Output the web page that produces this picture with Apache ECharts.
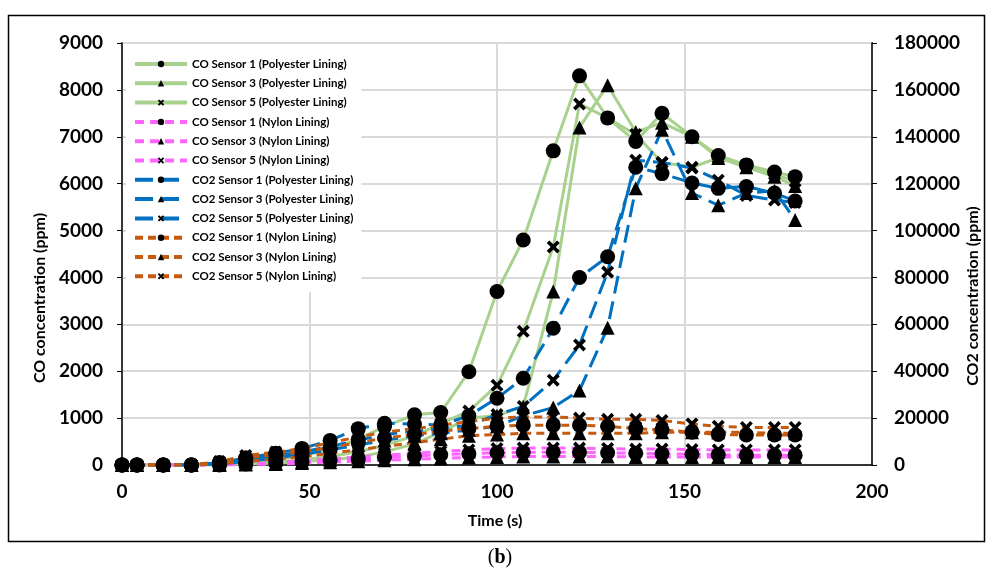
<!DOCTYPE html>
<html>
<head>
<meta charset="utf-8">
<script src="https://cdn.jsdelivr.net/npm/echarts@6/dist/echarts.min.js"></script>
<style>
  html, body { margin: 0; padding: 0; background: #fff; }
  #chart { width: 990px; height: 574px; }
</style>
</head>
<body>
<div id="chart"></div>
<script>
// Sampling times (s)
const times = [0, 4, 11, 18.5, 26, 33, 41, 48, 55.5, 63, 70, 78, 85, 92.5, 100, 107, 115, 122, 129.5, 137, 144, 152, 159, 166.5, 174, 179.5];

// CO (ppm), polyester lining
const coPolyS1 = [0, 0, 0, 0, 20, 60, 110, 200, 330, 550, 820, 1070, 1120, 1990, 3700, 4800, 6700, 8300, 7400, 6900, 7500, 7000, 6600, 6400, 6250, 6150];
const coPolyS3 = [0, 0, 0, 0, 0, 20, 40, 70, 110, 170, 280, 450, 700, 1000, 1050, 1250, 3700, 7200, 8100, 7100, 7300, 7000, 6550, 6350, 6150, 5950];
const coPolyS5 = [0, 0, 0, 0, 10, 30, 60, 110, 180, 280, 420, 620, 880, 1150, 1700, 2850, 4650, 7700, 7400, 7050, 6450, 6350, 6550, 6400, 6200, 6050];

// CO (ppm), nylon lining
const coNylS1 = [0, 0, 0, 0, 0, 20, 40, 70, 100, 130, 160, 190, 220, 240, 260, 270, 270, 270, 260, 250, 240, 230, 220, 210, 210, 210];
const coNylS3 = [0, 0, 0, 0, 0, 10, 20, 40, 60, 80, 100, 120, 140, 160, 170, 180, 180, 180, 180, 170, 170, 170, 170, 170, 170, 170];
const coNylS5 = [0, 0, 0, 0, 0, 20, 50, 90, 130, 170, 210, 250, 290, 320, 350, 360, 360, 360, 350, 340, 340, 330, 320, 320, 320, 320];

// CO2 (ppm), polyester lining
const co2PolyS1 = [0, 0, 0, 0, 1000, 3000, 5000, 7000, 10500, 15500, 17800, 17500, 17000, 21000, 28500, 37000, 58300, 80000, 88800, 127000, 124300, 120300, 118000, 118800, 116000, 112600];
const co2PolyS3 = [0, 0, 0, 0, 500, 1500, 3000, 4500, 6500, 8500, 10500, 12500, 13500, 15000, 16500, 21000, 24500, 31800, 58500, 118000, 143000, 116000, 110800, 116000, 117000, 104500];
const co2PolyS5 = [0, 0, 0, 0, 800, 2000, 4000, 5500, 8000, 10500, 13000, 14500, 15500, 17000, 21500, 25000, 36200, 51200, 82300, 130000, 129000, 126700, 121500, 115000, 113000, 112000];

// CO2 (ppm), nylon lining
const co2NylS1 = [0, 0, 0, 0, 1000, 3000, 4500, 5500, 7500, 9500, 11500, 13000, 14500, 15500, 16500, 17000, 17000, 17000, 16500, 15500, 15000, 14000, 13000, 12800, 12800, 12800];
const co2NylS3 = [0, 0, 0, 0, 500, 1500, 2500, 3500, 5000, 6500, 8000, 9500, 11000, 12500, 13000, 13500, 13500, 13500, 13500, 13500, 14000, 14000, 14000, 14000, 13500, 13500];
const co2NylS5 = [0, 0, 0, 0, 1500, 4000, 5500, 7000, 9500, 12000, 14000, 15500, 17000, 18500, 20000, 20500, 20500, 20000, 19500, 19500, 19000, 17500, 16500, 16000, 16000, 16000];

// Axis ranges and ticks
const xTicks = [0, 50, 100, 150, 200];
const coTicks = [0, 1000, 2000, 3000, 4000, 5000, 6000, 7000, 8000, 9000];
const co2Ticks = [0, 20000, 40000, 60000, 80000, 100000, 120000, 140000, 160000, 180000];

const FONT = 'Lato';
const GREEN = '#a9d18e', PINK = '#ff66ff', BLUE = '#0070c0', ORANGE = '#c55a11';

// Filled "x" marker outline
const CROSS = 'path://M2,0 L5,3 L8,0 L10,2 L7,5 L10,8 L8,10 L5,7 L2,10 L0,8 L3,5 L0,2 Z';
const markers = { s1: 'circle', s3: 'triangle', s5: CROSS };
const markerSize = { s1: 15, s3: 14, s5: 13 };

function pairs(values) {
  return times.map((t, i) => [t, values[i]]);
}

function makeSeries(name, values, sensor, color, dash, axisIndex) {
  return {
    name: name,
    type: 'line',
    yAxisIndex: axisIndex,
    data: pairs(values),
    symbol: markers[sensor],
    symbolSize: markerSize[sensor],
    showAllSymbol: true,
    itemStyle: { color: '#000', opacity: 1 },
    lineStyle: { color: color, width: 3, type: dash },
    emphasis: { disabled: true },
    animation: false
  };
}

const series = [
  makeSeries('CO Sensor 1 (Polyester Lining)', coPolyS1, 's1', GREEN, 'solid', 0),
  makeSeries('CO Sensor 3 (Polyester Lining)', coPolyS3, 's3', GREEN, 'solid', 0),
  makeSeries('CO Sensor 5 (Polyester Lining)', coPolyS5, 's5', GREEN, 'solid', 0),
  makeSeries('CO Sensor 1 (Nylon Lining)', coNylS1, 's1', PINK, [9, 6], 0),
  makeSeries('CO Sensor 3 (Nylon Lining)', coNylS3, 's3', PINK, [9, 6], 0),
  makeSeries('CO Sensor 5 (Nylon Lining)', coNylS5, 's5', PINK, [9, 6], 0),
  makeSeries('CO2 Sensor 1 (Polyester Lining)', co2PolyS1, 's1', BLUE, [18, 8], 1),
  makeSeries('CO2 Sensor 3 (Polyester Lining)', co2PolyS3, 's3', BLUE, [18, 8], 1),
  makeSeries('CO2 Sensor 5 (Polyester Lining)', co2PolyS5, 's5', BLUE, [18, 8], 1),
  makeSeries('CO2 Sensor 1 (Nylon Lining)', co2NylS1, 's1', ORANGE, [8, 5], 1),
  makeSeries('CO2 Sensor 3 (Nylon Lining)', co2NylS3, 's3', ORANGE, [8, 5], 1),
  makeSeries('CO2 Sensor 5 (Nylon Lining)', co2NylS5, 's5', ORANGE, [8, 5], 1)
];

const labelStyle = { fontFamily: FONT, fontWeight: 'bold', fontSize: 19, color: '#000', formatter: v => String(v) };
const titleFont = 'bold 16px ' + FONT;

const option = {
  backgroundColor: '#fff',
  animation: false,
  grid: {
    left: 122, right: 118, top: 43, bottom: 109,
    show: true, borderColor: '#000', borderWidth: 1.5, backgroundColor: 'transparent'
  },
  legend: {
    orient: 'vertical',
    left: 126, top: 44,
    padding: [14, 8, 10, 7],
    backgroundColor: '#fff',
    itemWidth: 52, itemHeight: 8, itemGap: 7.3,
    lineStyle: { width: 4 },
    textStyle: { fontFamily: FONT, fontWeight: 'bold', fontSize: 11.5, color: '#000', lineHeight: 12 },
    data: series.map(s => s.name),
    selectedMode: false
  },
  xAxis: {
    type: 'value',
    min: xTicks[0], max: xTicks[xTicks.length - 1], interval: xTicks[1] - xTicks[0],
    axisLine: { show: true, lineStyle: { color: '#000', width: 1.5 } },
    axisTick: { show: false },
    axisLabel: Object.assign({ margin: 17 }, labelStyle),
    splitLine: { show: true, lineStyle: { color: '#d9d9d9', width: 2 } }
  },
  yAxis: [
    {
      type: 'value', position: 'left',
      min: coTicks[0], max: coTicks[coTicks.length - 1], interval: coTicks[1] - coTicks[0],
      axisLine: { show: true, lineStyle: { color: '#000', width: 1.5 } },
      axisTick: { show: true, inside: false, length: 5, lineStyle: { color: '#000' } },
      axisLabel: Object.assign({ margin: 19 }, labelStyle),
      splitLine: { show: true, lineStyle: { color: '#d9d9d9', width: 2 } }
    },
    {
      type: 'value', position: 'right',
      min: co2Ticks[0], max: co2Ticks[co2Ticks.length - 1], interval: co2Ticks[1] - co2Ticks[0],
      axisLine: { show: true, lineStyle: { color: '#000', width: 1.5 } },
      axisTick: { show: true, inside: false, length: 5, lineStyle: { color: '#000' } },
      axisLabel: Object.assign({ margin: 22 }, labelStyle),
      splitLine: { show: false }
    }
  ],
  graphic: [
    {
      type: 'rect', silent: true, z: -10,
      shape: { x: 8.5, y: 15.5, width: 976, height: 526 },
      style: { fill: 'transparent', stroke: '#000', lineWidth: 1.5 }
    },
    {
      type: 'text', silent: true,
      x: 40, y: 298, rotation: Math.PI / 2,
      style: { text: 'CO concentration (ppm)', font: titleFont, fill: '#000', align: 'center', verticalAlign: 'middle' }
    },
    {
      type: 'text', silent: true,
      x: 973, y: 296, rotation: Math.PI / 2,
      style: { text: 'CO2 concentration (ppm)', font: titleFont, fill: '#000', align: 'center', verticalAlign: 'middle' }
    },
    {
      type: 'text', silent: true,
      x: 495, y: 521,
      style: { text: 'Time (s)', font: titleFont, fill: '#000', align: 'center', verticalAlign: 'middle' }
    },
    {
      type: 'text', silent: true,
      x: 500, y: 558,
      style: {
        text: '({b|b})',
        font: '20px "Liberation Serif"',
        fill: '#000', align: 'center', verticalAlign: 'middle',
        rich: { b: { fontFamily: 'Liberation Serif', fontWeight: 'bold', fontSize: 20, fill: '#000' } }
      }
    }
  ],
  series: series
};

const chart = echarts.init(document.getElementById('chart'), null, { renderer: 'canvas' });
chart.setOption(option);
</script>
</body>
</html>
